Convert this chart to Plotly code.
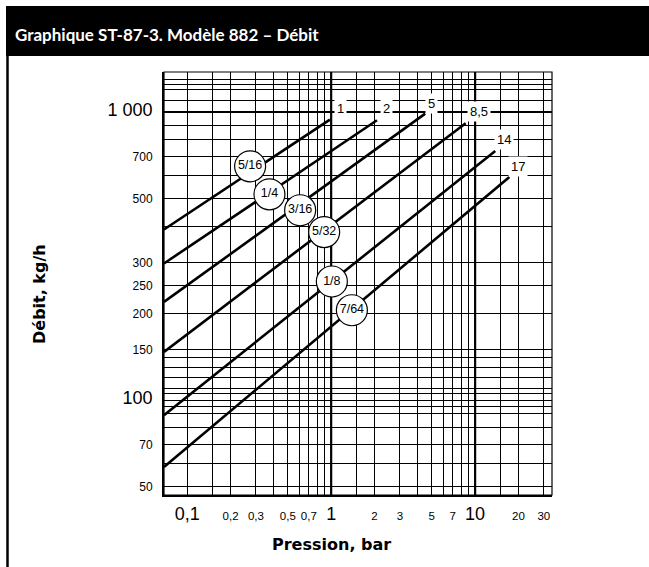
import numpy as np
import plotly.graph_objects as go

# ---------------- data ----------------
pressure_grid = [0.1, 0.15, 0.2, 0.3, 0.4, 0.5, 0.6, 0.7, 0.8, 0.9,
                 1, 1.5, 2, 3, 4, 5, 6, 7, 8, 9, 10, 15, 20, 30]
flow_grid = [50, 60, 70, 80, 90, 95, 100, 105, 110, 120, 130, 140, 150,
             200, 250, 300, 400, 500, 600, 700, 800, 900, 1000,
             1100, 1200, 1250, 1300]

x_label_vals = [0.1, 0.2, 0.3, 0.5, 0.7, 1, 2, 3, 5, 7, 10, 20, 30]
x_label_text = ["0,1", "0,2", "0,3", "0,5", "0,7", "1", "2", "3", "5", "7", "10", "20", "30"]
x_big_labels = [0.1, 1, 10]

y_label_vals = [50, 70, 100, 150, 200, 250, 300, 500, 700, 1000]
y_label_text = ["50", "70", "100", "150", "200", "250", "300", "500", "700", "1 000"]
y_big_labels = [100, 1000]

thick_pressures = [1, 10]
thick_flows = [1000]

x_range = [0.069, 34.2]
y_range = [46.8, 1377]

orifice_labels = ["5/16", "1/4", "3/16", "5/32", "1/8", "7/64"]
max_pressure_labels = ["1", "2", "5", "8,5", "14", "17"]

line_p_start = [0.069, 0.069, 0.069, 0.069, 0.069, 0.069]
line_f_start = [391, 298, 219, 147, 88.6, 58.6]
line_p_end = [0.98, 2.08, 4.5, 8.6, 13.8, 17.3]
line_f_end = [941, 936, 987, 914, 732, 595]

orifice_p = [0.2735, 0.3726, 0.609, 0.894, 1.011, 1.393]
orifice_f = [648, 518, 456, 383, 258, 205]

maxp_label_p = [1.155, 2.44, 5.01, 10.56, 15.9, 20.0]
maxp_label_f = [1027, 1027, 1074, 1008, 802, 648]

# ---------------- figure ----------------
W, H = 649, 567
ML, MR, MT, MB = 164, 97, 72, 72
PW, PH = W - ML - MR, H - MT - MB


def px_to_paper_x(px):
    return (px - ML) / PW


def px_to_paper_y(py):
    return (H - MB - py) / PH


def build_ticks(grid, label_vals, label_text, big, big_size):
    lab = dict(zip(label_vals, label_text))
    texts = []
    for g in grid:
        t = lab.get(g, "")
        if t and g in big:
            t = f"<span style='font-size:{big_size}px'>{t}</span>"
        texts.append(t)
    return texts


fig = go.Figure()

# thick grid lines (1, 10 bar; 1000 kg/h)
for p in thick_pressures:
    fig.add_trace(go.Scatter(x=[p, p], y=y_range, mode="lines",
                             line=dict(color="black", width=2.2),
                             hoverinfo="skip", showlegend=False))
for f in thick_flows:
    fig.add_trace(go.Scatter(x=x_range, y=[f, f], mode="lines",
                             line=dict(color="black", width=2.2),
                             hoverinfo="skip", showlegend=False))

# flow lines
for i in range(len(orifice_labels)):
    fig.add_trace(go.Scatter(x=[line_p_start[i], line_p_end[i]],
                             y=[line_f_start[i], line_f_end[i]],
                             mode="lines", line=dict(color="black", width=2.6),
                             hoverinfo="skip", showlegend=False))

# orifice circles
fig.add_trace(go.Scatter(x=orifice_p, y=orifice_f, mode="markers+text",
                         text=orifice_labels, textposition="middle center",
                         textfont=dict(family="Liberation Sans", size=12.5, color="black"),
                         marker=dict(symbol="circle", size=31, color="white",
                                     line=dict(color="black", width=1.2)),
                         hoverinfo="skip", showlegend=False, cliponaxis=False))

# max pressure labels
for i, t in enumerate(max_pressure_labels):
    fig.add_annotation(x=np.log10(maxp_label_p[i]), y=np.log10(maxp_label_f[i]),
                       xref="x", yref="y", text=t, showarrow=False,
                       font=dict(family="Liberation Sans", size=13, color="black"),
                       bgcolor="white", borderpad=2)

fig.update_xaxes(type="log", range=[np.log10(x_range[0]), np.log10(x_range[1])],
                 tickmode="array", tickvals=pressure_grid,
                 ticktext=build_ticks(pressure_grid, x_label_vals, x_label_text, x_big_labels, 18),
                 showgrid=True, gridcolor="black", gridwidth=1,
                 ticks="", showline=True, linecolor="black", linewidth=2, mirror=False,
                 tickfont=dict(family="Liberation Sans", size=11.5, color="black"),
                 ticklabelstandoff=9, zeroline=False)
fig.update_yaxes(type="log", range=[np.log10(y_range[0]), np.log10(y_range[1])],
                 tickmode="array", tickvals=flow_grid,
                 ticktext=build_ticks(flow_grid, y_label_vals, y_label_text, y_big_labels, 18),
                 showgrid=True, gridcolor="black", gridwidth=1,
                 ticks="", showline=True, linecolor="black", linewidth=2, mirror=False,
                 tickfont=dict(family="Liberation Sans", size=12, color="black"),
                 ticklabelstandoff=7, zeroline=False)

# plot frame (top/right)
fig.add_shape(type="rect", xref="paper", yref="paper", x0=0, y0=0, x1=1, y1=1,
              line=dict(color="black", width=1.2), layer="above")

# header bar and outer frame line
fig.add_shape(type="rect", xref="paper", yref="paper",
              x0=px_to_paper_x(6), x1=px_to_paper_x(660),
              y0=px_to_paper_y(56), y1=px_to_paper_y(6),
              fillcolor="black", line=dict(width=0), layer="above")
fig.add_shape(type="line", xref="paper", yref="paper",
              x0=px_to_paper_x(7.5), x1=px_to_paper_x(7.5),
              y0=px_to_paper_y(56), y1=px_to_paper_y(580),
              line=dict(color="black", width=2.5), layer="above")

fig.add_annotation(xref="paper", yref="paper", x=px_to_paper_x(13), y=px_to_paper_y(34),
                   xanchor="left", yanchor="middle", showarrow=False,
                   text="<b>Graphique ST-87-3. Modèle 882 – Débit</b>",
                   font=dict(family="Lato", size=17, color="white"))
fig.add_annotation(xref="paper", yref="paper", x=px_to_paper_x(39), y=px_to_paper_y(294),
                   xanchor="center", yanchor="middle", showarrow=False, textangle=-90,
                   text="<b>Débit, kg/h</b>",
                   font=dict(family="DejaVu Sans", size=16, color="black"))
fig.add_annotation(xref="paper", yref="paper", x=px_to_paper_x(331), y=px_to_paper_y(544),
                   xanchor="center", yanchor="middle", showarrow=False,
                   text="<b>Pression, bar</b>",
                   font=dict(family="DejaVu Sans", size=16, color="black"))

fig.update_layout(width=W, height=H, margin=dict(l=ML, r=MR, t=MT, b=MB),
                  paper_bgcolor="white", plot_bgcolor="white", showlegend=False)

fig.write_html("out.html", config={"displayModeBar": False},
               post_script="document.body.style.margin='0px';document.body.style.overflow='hidden';")
